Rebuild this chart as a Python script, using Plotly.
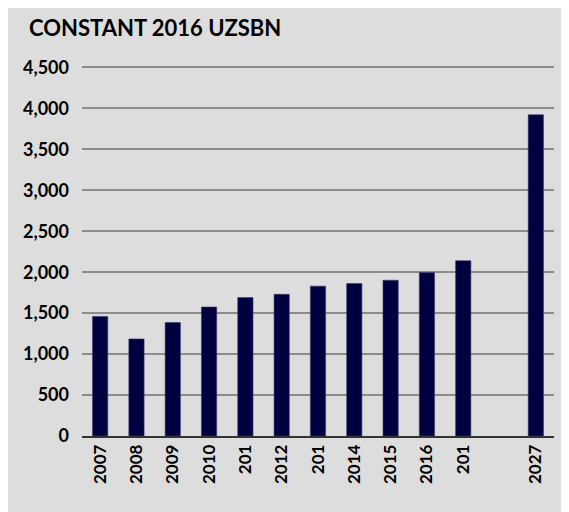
import plotly.graph_objects as go

tick_labels = ["2007", "2008", "2009", "2010", "201", "2012", "201", "2014", "2015", "2016", "201", "2027"]
positions = [0, 1, 2, 3, 4, 5, 6, 7, 8, 9, 10, 12]
values = [1460, 1185, 1385, 1575, 1690, 1730, 1830, 1862, 1902, 1995, 2140, 3922]
y_ticks = [0, 500, 1000, 1500, 2000, 2500, 3000, 3500, 4000, 4500]

FONT = "Lato"
W, H = 561, 504
L, R, T, B = 74, 15, 57, 76
PW, PH = W - L - R, H - T - B

fig = go.Figure()
fig.add_trace(go.Bar(
    x=positions, y=values, width=0.42,
    marker=dict(color="#000040", line=dict(color="#3a3a6a", width=0.6)),
))

fig.update_layout(
    width=W, height=H,
    paper_bgcolor="#dddddd", plot_bgcolor="rgba(0,0,0,0)",
    margin=dict(l=L, r=R, t=T, b=B),
    showlegend=False,
    font=dict(family=FONT, color="black"),
    annotations=[dict(text="<b>CONSTANT 2016 UZSBN</b>", xref="paper", yref="paper",
                      x=(19 - L) / PW, y=(H - B - 19) / PH, xanchor="left", yanchor="middle",
                      showarrow=False, font=dict(family=FONT, size=22, color="black"))],
)
fig.update_xaxes(
    range=[-0.5, 12.5], tickmode="array", tickvals=positions,
    ticktext=["<b>%s</b>" % t for t in tick_labels], tickangle=-90,
    tickfont=dict(family=FONT, size=17, color="black"),
    showgrid=False, zeroline=False, showline=True, linecolor="#333333", linewidth=1.5,
    ticks="", ticklabelstandoff=0,
)
fig.update_yaxes(
    range=[0, 4530], tickmode="array", tickvals=y_ticks,
    ticktext=["<b>{:,}</b>".format(v) for v in y_ticks],
    tickfont=dict(family=FONT, size=18, color="black"),
    showgrid=True, gridcolor="#8c8c8c", gridwidth=1.5, zeroline=False,
    ticks="", ticklabelstandoff=12,
)

fig.write_html("out.html")
